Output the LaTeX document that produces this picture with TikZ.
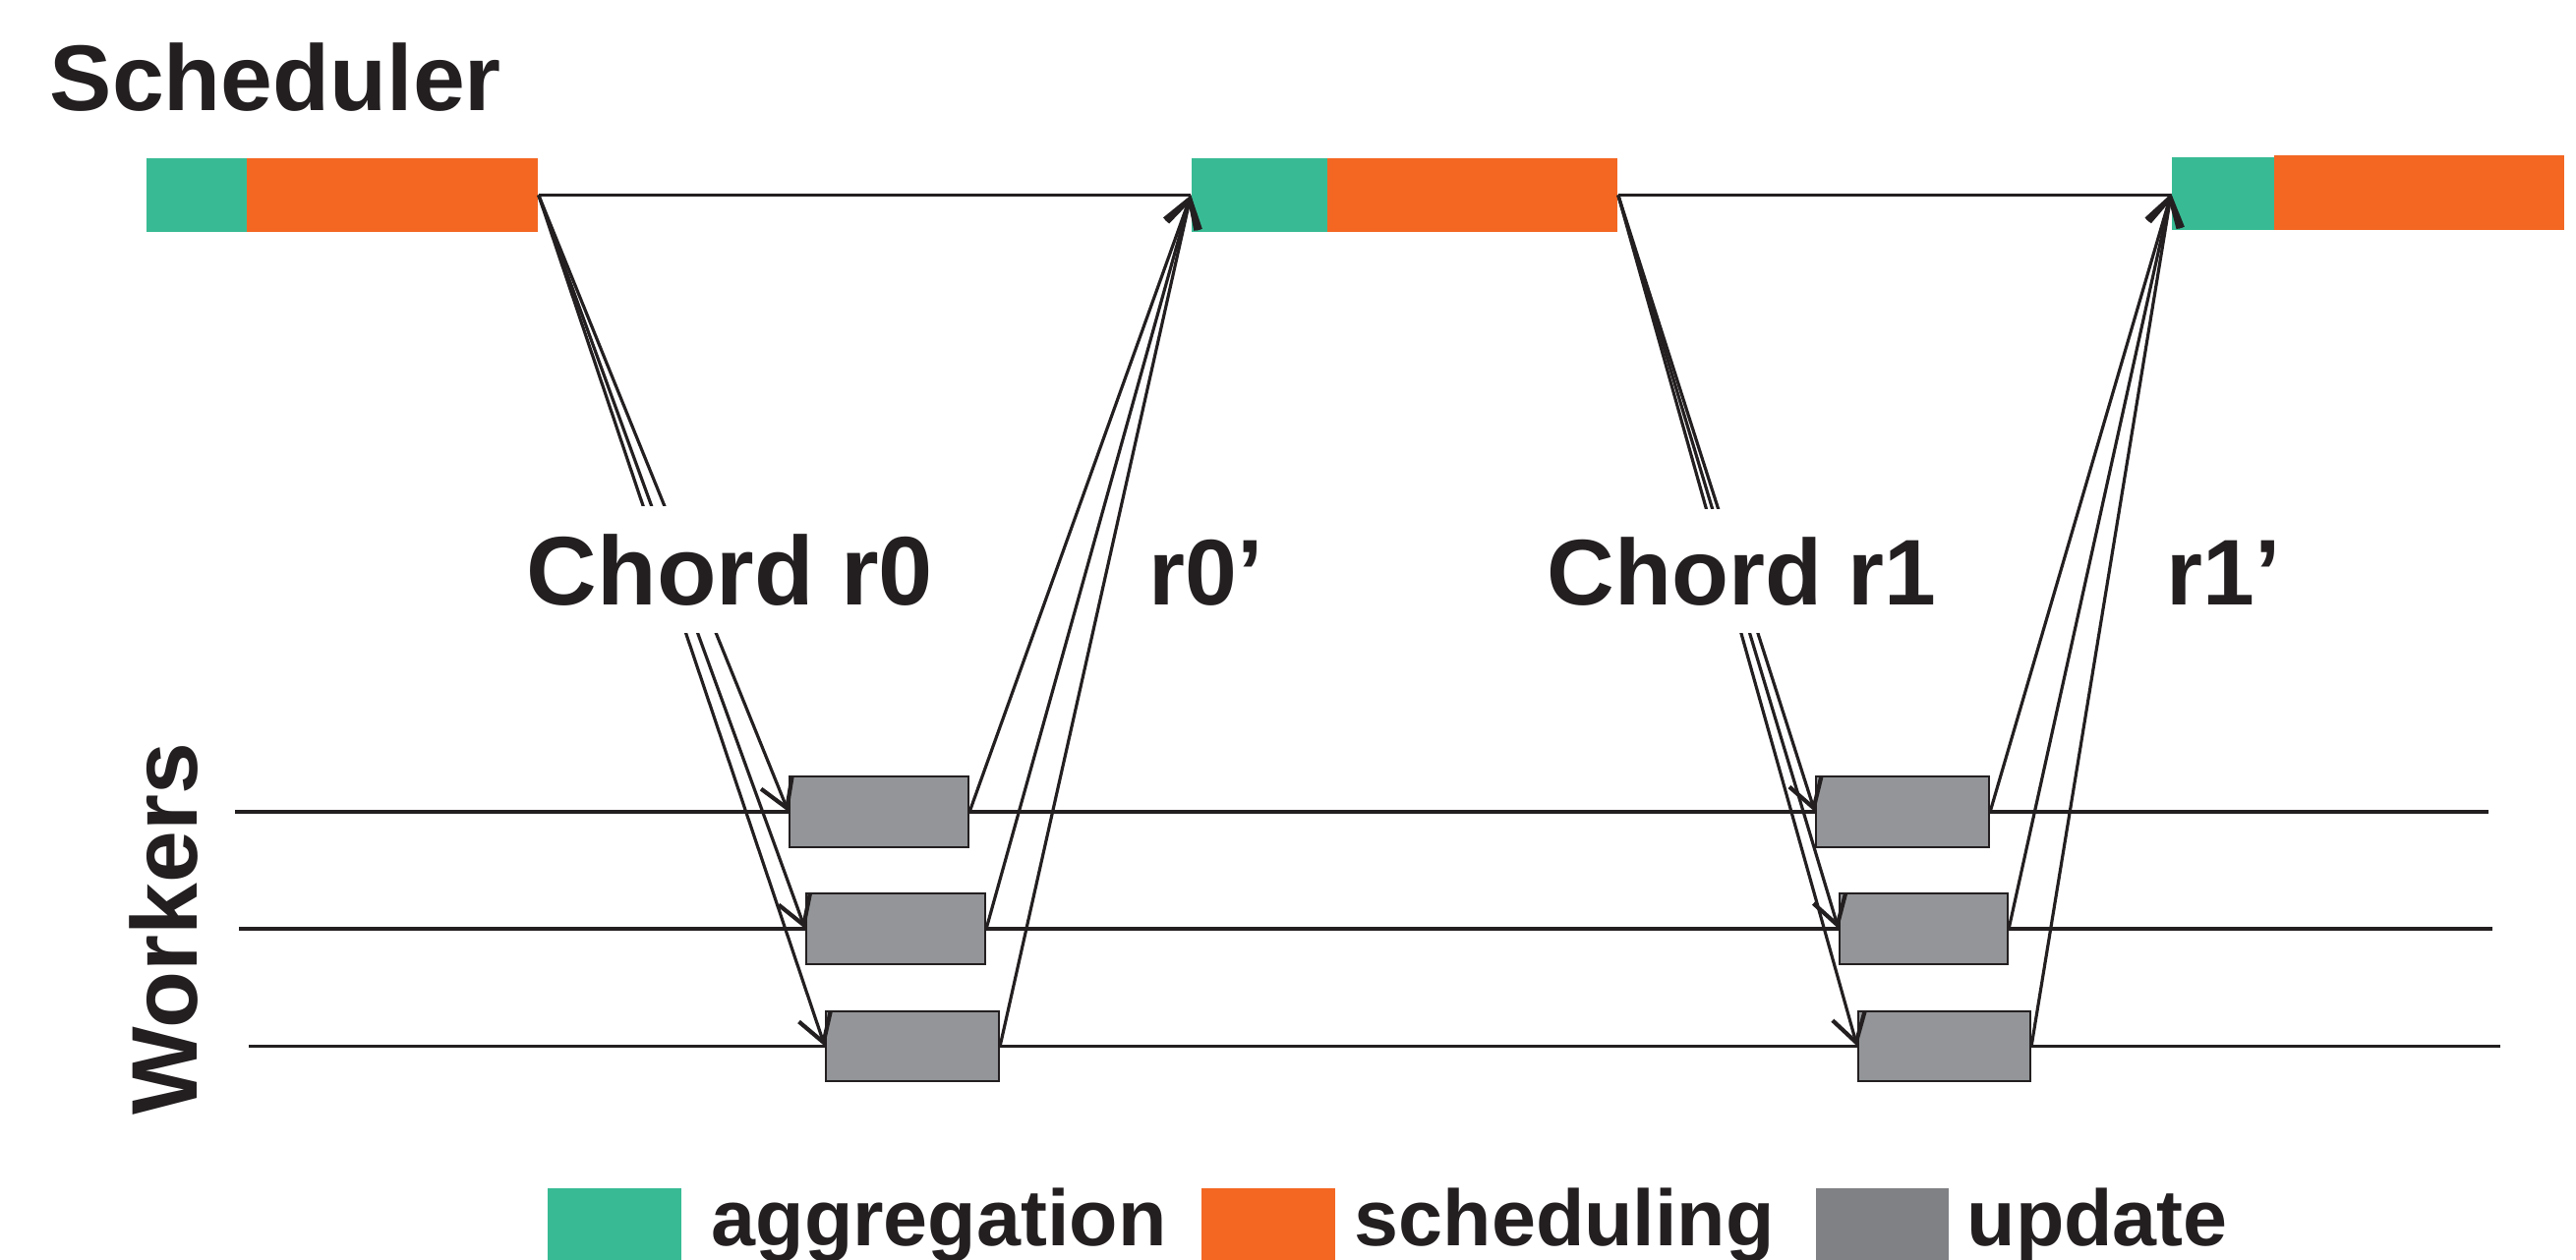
\documentclass[tikz,border=0pt]{standalone}
\usepackage{fontspec}
\setmainfont{Liberation Sans}
\usetikzlibrary{arrows.meta}
\definecolor{aggc}{HTML}{38BB94}
\definecolor{schc}{HTML}{F36723}
\definecolor{updc}{HTML}{939598}
\definecolor{legg}{HTML}{808185}
\definecolor{ink}{HTML}{231F20}
\tikzset{
  bar/.style={rectangle, draw=none, inner sep=0pt, minimum height=0.75cm},
  aggbar/.style={bar, fill=aggc},
  schbar/.style={bar, fill=schc},
  updbox/.style={rectangle, fill=updc, draw=ink, line width=0.6pt, inner sep=0pt, minimum height=0.72cm},
  wire/.style={draw=ink, line width=0.9pt},
  msg/.style={draw=ink, line width=0.9pt, -{Straight Barb[length=2.8mm,width=3.4mm,line width=1.2pt]}},
  biglabel/.style={font=\fontsize{27pt}{32pt}\selectfont\bfseries, text=ink, inner sep=0pt},
  roundlabel/.style={biglabel, fill=white, inner xsep=4pt, inner ysep=8pt, anchor=base},
  legtext/.style={font=\fontsize{23pt}{28pt}\selectfont\bfseries, text=ink, inner sep=0pt, anchor=base west},
  legbox/.style={rectangle, draw=none, inner sep=0pt, minimum width=1.36cm, minimum height=0.74cm, anchor=north west}
}
\begin{document}
\begin{tikzpicture}[x=0.01cm, y=-0.01cm]
\useasboundingbox (0,0) rectangle (2620,1282);
% scheduler bars
\node[aggbar, minimum width=1.02cm] (g1) at (200,198.5) {};
\node[schbar, minimum width=2.96cm] (o1) at (399,198.5) {};
\node[aggbar, minimum width=1.38cm] (g2) at (1281,198.5) {};
\node[schbar, minimum width=2.95cm] (o2) at (1497.5,198.5) {};
\node[aggbar, minimum width=1.04cm, minimum height=0.74cm] (g3) at (2261,197) {};
\node[schbar, minimum width=2.95cm] (o3) at (2460.5,196) {};
% update boxes
\node[updbox, minimum width=1.82cm] (u1) at (894,826) {};
\node[updbox, minimum width=1.82cm] (u2) at (911,945) {};
\node[updbox, minimum width=1.76cm, minimum height=0.71cm] (u3) at (928,1064.5) {};
\node[updbox, minimum width=1.76cm] (u4) at (1935,826) {};
\node[updbox, minimum width=1.71cm] (u5) at (1956.5,945) {};
\node[updbox, minimum width=1.75cm, minimum height=0.71cm] (u6) at (1977.5,1064.5) {};
% worker line ends
\coordinate (w1s) at (239,826);
\coordinate (w1e) at (2531,826);
\coordinate (w2s) at (243,945);
\coordinate (w2e) at (2535,945);
\coordinate (w3s) at (253,1064.5);
\coordinate (w3e) at (2543,1064.5);
% timeline
\draw[wire] (o1.east) -- (g2.west);
\draw[wire] (o2.east) -- (o2.east -| g3.west);
% worker lines
\draw[wire] (w1s) -- (u1.west) (u1.east) -- (u4.west) (u4.east) -- (w1e);
\draw[wire] (w2s) -- (u2.west) (u2.east) -- (u5.west) (u5.east) -- (w2e);
\draw[wire] (w3s) -- (u3.west) (u3.east) -- (u6.west) (u6.east) -- (w3e);
% round 0
\draw[msg] (o1.east) -- (u1.west);
\draw[msg] (o1.east) -- (u2.west);
\draw[msg] (o1.east) -- (u3.west);
\draw[msg] (u1.east) -- (g2.west);
\draw[msg] (u2.east) -- (g2.west);
\draw[msg] (u3.east) -- (g2.west);
% round 1
\draw[msg] (o2.east) -- (u4.west);
\draw[msg] (o2.east) -- (u5.west);
\draw[msg] (o2.east) -- (u6.west);
\draw[msg] (u4.east) -- (g3.west);
\draw[msg] (u5.east) -- (g3.west);
\draw[msg] (u6.east) -- (g3.west);
% labels
\node[biglabel, anchor=base west] (sched) at (50,113) {Scheduler};
\node[biglabel, anchor=base, rotate=90] (workers) at (200,945) {Workers};
\node[roundlabel, font=\fontsize{28.2pt}{33pt}\selectfont\bfseries] (c0) at (742.5,615) {Chord r0};
\node[roundlabel] (c0p) at (1227,615) {r0’};
\node[roundlabel] (c1) at (1771.5,615) {Chord r1};
\node[roundlabel] (c1p) at (2262,615) {r1’};
% legend
\node[legbox, fill=aggc, minimum height=0.74cm] (lg1) at (556,1208) {};
\node[legtext] (lt1) at (723,1267) {aggregation};
\node[legbox, fill=schc] (lg2) at (1221,1208) {};
\node[legtext] (lt2) at (1377,1267) {scheduling};
\node[legbox, fill=legg, minimum width=1.35cm] (lg3) at (1846,1208) {};
\node[legtext] (lt3) at (2000,1267) {update};
\end{tikzpicture}
\end{document}
